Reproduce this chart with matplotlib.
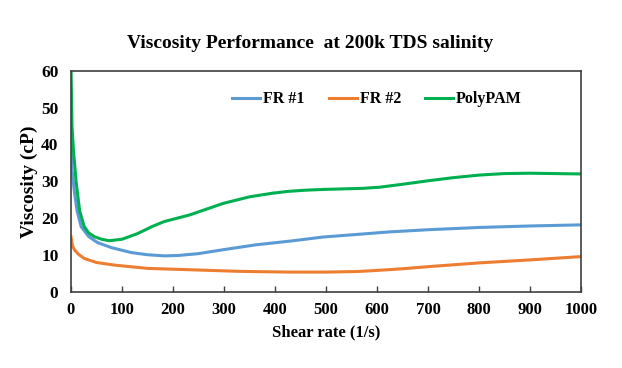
import matplotlib
matplotlib.use('Agg')
import matplotlib.pyplot as plt

# --- Data ---
fr1_x = [0, 2, 7, 12, 20, 35, 52, 80, 118, 150, 183, 210, 250, 300, 363, 430, 494, 560, 625, 703, 801, 900, 1000]
fr1_y = [40, 33, 26.8, 22, 17.7, 15, 13.4, 12, 10.7, 10.1, 9.8, 9.9, 10.4, 11.5, 12.8, 13.8, 14.9, 15.6, 16.3, 16.9, 17.5, 17.9, 18.2]

fr2_x = [0, 3, 7, 15, 26, 50, 85, 150, 242, 330, 428, 500, 560, 600, 650, 703, 801, 900, 1000]
fr2_y = [15, 12.5, 11.4, 10.2, 9.1, 8.0, 7.3, 6.4, 6.0, 5.6, 5.4, 5.4, 5.55, 5.85, 6.3, 6.9, 7.9, 8.7, 9.6]

pam_x = [0, 2, 5, 7, 10, 17, 26, 35, 46, 60, 75, 100, 130, 160, 183, 233, 298, 350, 396, 428, 460, 494,
         572, 605, 650, 703, 750, 801, 850, 900, 950, 1000]
pam_y = [62, 45, 38, 35, 30, 22, 17.7, 16, 15, 14.3, 13.9, 14.3, 15.8, 17.8, 19.1, 20.9, 24, 25.8, 26.8,
         27.3, 27.6, 27.8, 28.1, 28.4, 29.2, 30.2, 31, 31.7, 32.1, 32.2, 32.1, 32]

x_ticks = [0, 100, 200, 300, 400, 500, 600, 700, 800, 900, 1000]
y_ticks = [0, 10, 20, 30, 40, 50, 60]

# --- Style ---
COLOR_FR1 = '#5B9BD5'
COLOR_FR2 = '#ED7D31'
COLOR_PAM = '#00B050'
COLOR_AXIS = '#404040'

plt.rcParams['font.family'] = ['Liberation Serif', 'DejaVu Serif']
plt.rcParams['font.weight'] = 'bold'

fig = plt.figure(figsize=(6.22, 3.68), dpi=100)
ax = fig.add_axes([0.1141, 0.2065, 0.8199, 0.6015])

ax.plot(fr1_x, fr1_y, color=COLOR_FR1, lw=2.2, label='FR #1')
ax.plot(fr2_x, fr2_y, color=COLOR_FR2, lw=2.2, label='FR #2')
ax.plot(pam_x, pam_y, color=COLOR_PAM, lw=2.2, label='PolyPAM')

ax.set_xlim(0, 1000)
ax.set_ylim(0, 60)
ax.set_xticks(x_ticks)
ax.set_yticks(y_ticks)
ax.tick_params(axis='x', direction='in', length=4, width=1, color=COLOR_AXIS, labelsize=12, pad=7)
ax.tick_params(axis='y', length=0, labelsize=12.5, pad=9)
for lbl in ax.get_xticklabels() + ax.get_yticklabels():
    lbl.set_fontweight('bold')
for sp in ax.spines.values():
    sp.set_color(COLOR_AXIS)
    sp.set_linewidth(1.2)

ax.set_xlabel('Shear rate (1/s)', fontsize=12, fontweight='bold', labelpad=5)
ax.set_ylabel('Viscosity (cP)', fontsize=14, fontweight='bold', labelpad=2)

fig.text(0.4985, 0.883, 'Viscosity Performance  at 200k TDS salinity', ha='center', va='center',
         fontsize=14, fontweight='bold')

leg = ax.legend(loc='center', bbox_to_anchor=(0.6, 0.87), ncol=3, frameon=False,
                prop={'weight': 'bold', 'size': 11.5}, handlelength=1.75, handletextpad=0.2,
                columnspacing=1.5)

fig.savefig('out.png', dpi=100)
